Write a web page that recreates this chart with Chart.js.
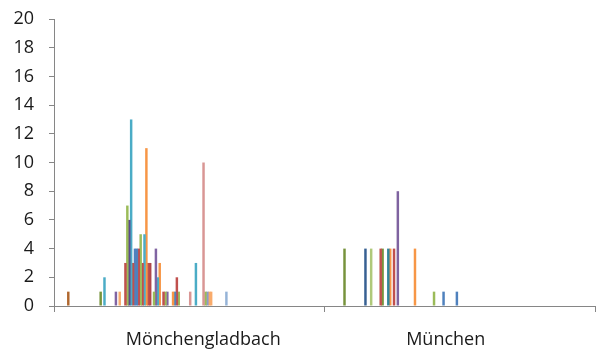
<!DOCTYPE html>
<html>
<head>
<meta charset="utf-8">
<script src="https://cdn.jsdelivr.net/npm/chart.js@4/dist/chart.umd.min.js"></script>
<style>
  html, body { margin: 0; padding: 0; background: #fff; }
  #chart { display: block; }
</style>
</head>
<body>
<canvas id="chart" width="601" height="359"></canvas>
<script>
const categories = ["Mönchengladbach", "München"];
const seriesCount = 142;
const yTicks = [0, 2, 4, 6, 8, 10, 12, 14, 16, 18, 20];

// counts per series number, only series that have a value
const mgCounts = {7: 1, 24: 1, 26: 2, 32: 1, 34: 1, 37: 3, 38: 7, 39: 6, 40: 13, 41: 3, 42: 4, 43: 4,
  44: 4, 45: 5, 46: 3, 47: 5, 48: 11, 49: 3, 50: 3, 52: 1, 53: 4, 54: 2, 55: 3, 57: 1, 58: 1, 59: 1,
  62: 1, 63: 1, 64: 2, 65: 1, 71: 1, 74: 3, 78: 10, 79: 1, 80: 1, 81: 1, 82: 1, 90: 1};
const muCounts = {10: 4, 21: 4, 24: 4, 29: 4, 30: 4, 33: 4, 34: 4, 36: 4, 38: 8, 47: 4, 57: 1, 62: 1, 69: 1};

const mgColors = {7: "#B0682F", 24: "#77933C", 26: "#4BACC6", 32: "#8064A2", 34: "#F9AB6B", 37: "#C0504D",
  38: "#9BBB59", 39: "#5C4A8C", 40: "#4BACC6", 41: "#C0504D", 42: "#4F81BD", 43: "#4F81BD", 44: "#C0504D",
  45: "#9BBB59", 46: "#C0504D", 47: "#4BACC6", 48: "#F79646", 49: "#C0504D", 50: "#B0454A", 52: "#9BBB59",
  53: "#8064A2", 54: "#4BACC6", 55: "#F79646", 57: "#C0504D", 58: "#9BBB59", 59: "#8064A2", 62: "#F79646",
  63: "#4F81BD", 64: "#C0504D", 65: "#9BBB59", 71: "#D99694", 74: "#4BACC6", 78: "#D99694", 79: "#9BBB59",
  80: "#8C9ACB", 81: "#F9AB6B", 82: "#F9AB6B", 90: "#95B3D7"};
const muColors = {10: "#77933C", 21: "#376092", 24: "#AFC97A", 29: "#C0504D", 30: "#77933C", 33: "#31859C",
  34: "#F79646", 36: "#C0504D", 38: "#7F63A0", 47: "#F79646", 57: "#9BBB59", 62: "#4F81BD", 69: "#4F81BD"};

const datasets = [];
for (let i = 0; i < seriesCount; i++) {
  datasets.push({
    label: "S" + (i + 1),
    data: [mgCounts[i] ?? null, muCounts[i] ?? null],
    backgroundColor: [mgColors[i] || "#999", muColors[i] || "#999"],
    borderWidth: 0
  });
}

const axisColor = "#868686";
const font = { family: "Open Sans", size: 18 };

// the labels in the original sit a bit toward the middle of the axis
function shiftedLabel(value, index) {
  const label = categories[index];
  return index === 0 ? "      " + label : label + "      ";
}

new Chart(document.getElementById("chart"), {
  type: "bar",
  data: { labels: categories, datasets },
  options: {
    responsive: false,
    animation: false,
    categoryPercentage: 1,
    barPercentage: 1.3,
    layout: { padding: { top: 19, right: 6, bottom: 0, left: 0 } },
    plugins: { legend: { display: false }, tooltip: { enabled: false }, title: { display: false } },
    scales: {
      x: {
        grid: { display: true, drawOnChartArea: false, offset: true, tickLength: 6, color: axisColor },
        border: { color: axisColor },
        ticks: { font, color: "#1a1a1a", padding: 17, maxRotation: 0, callback: shiftedLabel },
        afterFit: s => { s.height = 53; }
      },
      y: {
        min: 0,
        max: 20,
        afterBuildTicks: axis => { axis.ticks = yTicks.map(v => ({ value: v })); },
        grid: { display: true, drawOnChartArea: false, tickLength: 5, color: axisColor },
        border: { color: axisColor },
        ticks: { font, color: "#1a1a1a", padding: 15 },
        afterFit: s => { s.width = 54; s.paddingTop = 0; s.paddingBottom = 0; }
      }
    }
  }
});
</script>
</body>
</html>
